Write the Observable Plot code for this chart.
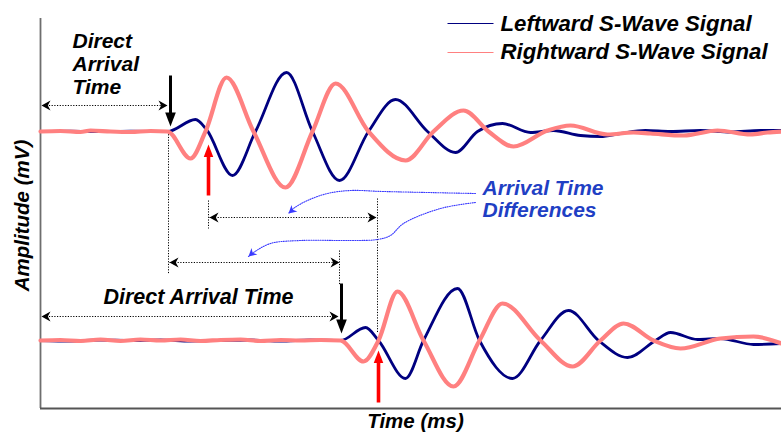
<!DOCTYPE html>
<html><head><meta charset="utf-8">
<script src="https://cdn.jsdelivr.net/npm/d3@7"></script>
<script src="https://cdn.jsdelivr.net/npm/@observablehq/plot@0.6"></script>
<style>body{margin:0;background:#fff}</style>
</head><body><div id="chart"></div>
<script>
// ---- Data (time in arbitrary ms units, amplitude in mV units) ----
const topLeftTime  = [0,3,6,9,12.7,15.5,16.6,19.2,21.5,24.6,27.2,29.9,32.8,35.5,38.7,41.5,43.7,46.2,49,51.3,54,56,58,60.5,63,66,69,72,74.1];
const topLeftAmp   = [0,0.03,-0.02,0.03,0,1.2,0.2,-4.4,0,5.9,0,-4.9,0,3.2,0,-2.1,0,0.8,-0.1,0.1,-0.4,-0.5,-0.2,0.1,0,0.1,-0.05,0.1,0.1];
const topRightTime = [0,2,4,5,7,9,11,12.7,15,16.5,18.6,21.3,24.5,27.2,29.5,32.8,36.5,39.3,42.3,44.8,47.3,50.7,53,56.7,59.3,61,64.3,67.7,71,72.7,74.1];
const topRightAmp  = [0,0.05,-0.05,0.1,0,-0.05,0.05,0,-2.7,0,5.4,0,-5.6,0,4.8,0,-2.9,0,2.1,0,-1.5,0.1,0.6,-0.3,-0.1,-0.2,-0.4,0.1,-0.3,-0.1,0];
const botLeftTime  = [0,3,6,9,12,15,18,21,24,27,30,32.5,33.8,36.5,38.3,41.7,43.9,47.2,50,52.8,55.8,58.7,61.5,63,65.7,68,71.3,74.1];
const botLeftAmp   = [0,-0.05,0.05,0,0.05,-0.05,0,0.05,-0.05,0.05,0,1.3,0,-3.8,0,5.2,0,-3.8,0,3.0,0,-1.7,0,0.8,0.1,0.2,-0.4,-0.3];
const botRightTime = [0,2,4,6,8,10,12,14,16,18,20,22,24,26,28,30,32.3,33.8,35.7,38.3,41.3,43.9,46.2,50,53.2,56,58.3,61.3,64,68,71.3,74.1];
const botRightAmp  = [0,0.05,-0.05,0.1,-0.05,0.1,0,0.1,-0.05,0.05,0.1,-0.05,0.05,0,0.05,0,-2.1,0,4.9,0,-4.6,0,3.7,0,-2.6,0,1.7,0,-0.8,0.2,0.4,-0.3];
const topBaseline = 27.7;
const botBaseline = 6.8;
const seriesNames = ["Leftward S-Wave Signal", "Rightward S-Wave Signal"];

// ---- Build tables ----
const mk = (ts, as, base, s) => ts.map((t, i) => ({t, v: as[i] + base, s}));
const leftTop = mk(topLeftTime, topLeftAmp, topBaseline, 0);
const rightTop = mk(topRightTime, topRightAmp, topBaseline, 1);
const leftBot = mk(botLeftTime, botLeftAmp, botBaseline, 0);
const rightBot = mk(botRightTime, botRightAmp, botBaseline, 1);

const NAVY = "#000080", PINK = "#ff8080", BLUE_TXT = "#1f3fc4", BLUE_LN = "#3a3aff", RED = "#ff0000";
const FONT = "'Liberation Sans', Arial, sans-serif";

// arrow-head symbol: tip at origin, pointing up before rotation
function headSymbol(ratio, notch) {
  return {draw(ctx, size) {
    const r = Math.sqrt(size / Math.PI);
    ctx.moveTo(0, 0);
    ctx.lineTo(ratio * r, r);
    ctx.lineTo(0, notch * r);
    ctx.lineTo(-ratio * r, r);
    ctx.closePath();
  }};
}
const solidHead = headSymbol(0.38, 1);
const stealthHead = headSymbol(0.55, 0.7);

// annotations
const dotted = [
  {x1: 12.8, y1: 27.7, x2: 12.8, y2: 13.5},
  {x1: 16.8, y1: 20.8, x2: 16.8, y2: 18.0},
  {x1: 33.7, y1: 21.0, x2: 33.7, y2: 7.5},
  {x1: 29.9, y1: 15.8, x2: 29.9, y2: 12.3},
  {x1: 0.3, y1: 30.3, x2: 12.6, y2: 30.3},
  {x1: 16.9, y1: 19.1, x2: 33.6, y2: 19.1},
  {x1: 12.9, y1: 14.6, x2: 29.8, y2: 14.6},
  {x1: 0.3, y1: 9.2, x2: 29.7, y2: 9.2}
];
const dottedHeads = [
  {x: 0.1, y: 30.3, a: 270}, {x: 12.7, y: 30.3, a: 90},
  {x: 16.9, y: 19.1, a: 270}, {x: 33.6, y: 19.1, a: 90},
  {x: 12.9, y: 14.6, a: 270}, {x: 29.9, y: 14.6, a: 90},
  {x: 0.1, y: 9.2, a: 270}, {x: 29.8, y: 9.2, a: 90}
];
const blackArrows = [
  {x: 13.0, y1: 33.3, y2: 29.2, ty: 28.2},
  {x: 30.1, y1: 12.5, y2: 8.5, ty: 7.5}
];
const redArrows = [
  {x: 16.8, y1: 21.3, y2: 25.6, ty: 26.4},
  {x: 33.8, y1: 0.6, y2: 5.0, ty: 5.8}
];
const curve1 = [[43.5,21.5],[34.3,21.7],[31,21.8],[28.7,21.5],[26.7,20.8],[25.3,20],[24.8,19.5]].map(([t,v]) => ({t, v}));
const curve2 = [[43.5,20.6],[40,20],[36.3,18.5],[35,17.3],[33.7,16.9],[31,16.8],[26,16.8],[23,16.5],[21.3,15.6],[20.8,15.2]].map(([t,v]) => ({t, v}));

const txt = (data, opts) => Plot.text(data, {fontFamily: FONT, fontWeight: "bold", fontStyle: "italic", fontSize: 21, fill: "black", textAnchor: "start", ...opts});

const chart = Plot.plot({
  width: 781, height: 438,
  marginLeft: 40, marginRight: 0, marginTop: 18, marginBottom: 30,
  x: {domain: [0, 74.1], axis: null},
  y: {domain: [0, 39], axis: null},
  style: {background: "white", overflow: "visible"},
  marks: [
    // axes
    Plot.ruleX([0], {y1: 0, y2: 39, stroke: "#6e6e6e", strokeWidth: 1.8}),
    Plot.ruleY([0], {x1: 0, x2: 74.1, stroke: "#555", strokeWidth: 1.8}),
    // dotted guides
    Plot.link(dotted, {x1: "x1", y1: "y1", x2: "x2", y2: "y2", stroke: "black", strokeWidth: 1, strokeDasharray: "1.2,1.5"}),
    Plot.dot(dottedHeads, {x: "x", y: "y", rotate: "a", symbol: stealthHead, r: 9, fill: "black", stroke: "none"}),
    // signals
    Plot.line(leftTop, {x: "t", y: "v", stroke: NAVY, strokeWidth: 2.8, curve: "monotone-x"}),
    Plot.line(leftBot, {x: "t", y: "v", stroke: NAVY, strokeWidth: 2.8, curve: "monotone-x"}),
    Plot.line(rightTop, {x: "t", y: "v", stroke: PINK, strokeWidth: 4.2, curve: "monotone-x"}),
    Plot.line(rightBot, {x: "t", y: "v", stroke: PINK, strokeWidth: 4.2, curve: "monotone-x"}),
    // arrows
    Plot.link(blackArrows, {x1: "x", x2: "x", y1: "y1", y2: "y2", stroke: "black", strokeWidth: 3}),
    Plot.dot(blackArrows, {x: "x", y: "ty", rotate: 180, symbol: solidHead, r: 14, fill: "black", stroke: "none"}),
    Plot.link(redArrows, {x1: "x", x2: "x", y1: "y1", y2: "y2", stroke: RED, strokeWidth: 3.6}),
    Plot.dot(redArrows, {x: "x", y: "ty", rotate: 0, symbol: solidHead, r: 12.5, fill: RED, stroke: "none"}),
    // blue pointer curves
    Plot.line(curve1, {x: "t", y: "v", stroke: BLUE_LN, strokeWidth: 1.1, strokeDasharray: "1,1.3", curve: "catmull-rom"}),
    Plot.line(curve2, {x: "t", y: "v", stroke: BLUE_LN, strokeWidth: 1.1, strokeDasharray: "1,1.3", curve: "catmull-rom"}),
    Plot.dot([curve1[curve1.length - 1], curve2[curve2.length - 1]], {x: "t", y: "v", rotate: 228, symbol: stealthHead, r: 8, fill: BLUE_LN, stroke: "none"}),
    // legend
    Plot.link([0, 1], {x1: 40.7, x2: 45.3, y1: i => [38.5, 35.6][i], y2: i => [38.5, 35.6][i], stroke: i => [NAVY, PINK][i], strokeWidth: i => [2.8, 4.2]}),
    txt([0, 1], {x: 46, y: i => [38.5, 35.7][i], text: i => seriesNames[i], fontSize: 22.2}),
    // labels
    txt(["Direct", "Arrival", "Time"], {x: 3.2, y: (d, i) => [36.7, 34.4, 32.1][i], text: d => d}),
    txt(["Direct Arrival Time"], {x: 6.3, y: 11.1, text: d => d, fontSize: 21.5}),
    txt(["Arrival Time", "Differences"], {x: 44.2, y: (d, i) => [22.0, 19.8][i], text: d => d, fill: BLUE_TXT}),
    txt(["Amplitude (mV)"], {x: -1.8, y: 19.3, text: d => d, rotate: -90, textAnchor: "middle", fontSize: 20.5}),
    txt(["Time (ms)"], {x: 37.5, y: -1.3, text: d => d, textAnchor: "middle", fontSize: 20.5})
  ]
});
document.getElementById("chart").appendChild(chart);
</script>
</body></html>
